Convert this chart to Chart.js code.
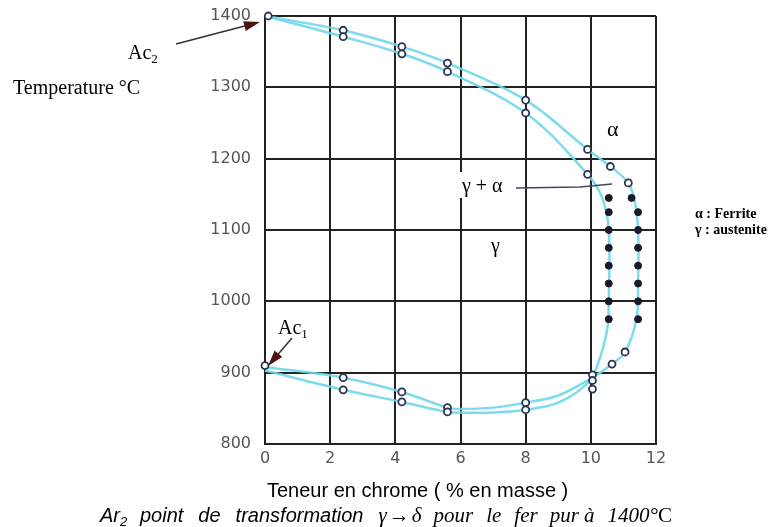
<!DOCTYPE html>
<html>
<head>
<meta charset="utf-8">
<script src="https://cdn.jsdelivr.net/npm/chart.js@4.4.1/dist/chart.umd.min.js"></script>
<style>
  body { margin: 0; background: #fff; }
  canvas { display: block; }
</style>
</head>
<body>
<canvas id="c" width="777" height="527"></canvas>
<script>
// axis ticks
var crTicks = [0, 2, 4, 6, 8, 10, 12];
var tempTicks = [800, 900, 1000, 1100, 1200, 1300, 1400];

// outer loop (heating)
var acCr   = [0, 2.4, 4.2, 5.6, 8, 9.9, 10.6, 11.15, 11.35, 11.45, 11.45, 11.4, 11.05, 10.65, 10.05, 9, 8, 7, 6, 5.6, 4.2, 2.4, 0];
var acTemp = [1400, 1380, 1357, 1334, 1282, 1213, 1189, 1166, 1140, 1100, 1025, 975, 929, 912, 893, 868, 858, 851, 849, 851, 873, 893, 908];

// inner loop (cooling)
var arCr   = [0, 2.4, 4.2, 5.6, 8, 9.9, 10.35, 10.55, 10.55, 10.5, 10.2, 9.9, 9, 8, 7, 6, 5.6, 4.2, 2.4, 0];
var arTemp = [1400, 1371, 1347, 1322, 1264, 1178, 1145, 1100, 1000, 960, 910, 885, 858, 848, 844, 844, 845, 859, 876, 903];

// open circles (measured points)
var openCr   = [0.1, 2.4, 2.4, 4.2, 4.2, 5.6, 5.6, 8, 8, 9.9, 9.9, 10.6, 11.15,
                0, 2.4, 2.4, 4.2, 4.2, 5.6, 5.6, 8, 8, 10.05, 10.05, 10.05, 10.65, 11.05];
var openTemp = [1400, 1380, 1371, 1357, 1347, 1334, 1322, 1282, 1264, 1213, 1178, 1189, 1166,
                910, 893, 876, 873, 859, 851, 845, 858, 848, 897, 889, 877, 912, 929];

// filled points (two columns)
var fullCr   = [10.55, 10.55, 10.55, 10.55, 10.55, 10.55, 10.55, 10.55,
                11.25, 11.45, 11.45, 11.45, 11.45, 11.45, 11.45, 11.45];
var fullTemp = [1145, 1125, 1100, 1075, 1050, 1025, 1000, 975,
                1145, 1125, 1100, 1075, 1050, 1025, 1000, 975];

function pts(xs, ys) {
  var out = [];
  for (var i = 0; i < xs.length; i++) out.push({x: xs[i], y: ys[i]});
  return out;
}

function sub(ctx, base, idx, x, y, size) {
  ctx.font = size + 'px "Liberation Serif"';
  ctx.fillText(base, x, y);
  var w = ctx.measureText(base).width;
  ctx.font = Math.round(size * 0.65) + 'px "Liberation Serif"';
  ctx.fillText(idx, x + w, y + 4);
}

function arrow(ctx, x1, y1, x2, y2) {
  var a = Math.atan2(y2 - y1, x2 - x1);
  ctx.strokeStyle = '#333';
  ctx.lineWidth = 1.5;
  ctx.beginPath();
  ctx.moveTo(x1, y1);
  ctx.lineTo(x2 - 10 * Math.cos(a), y2 - 10 * Math.sin(a));
  ctx.stroke();
  ctx.fillStyle = '#4a1414';
  ctx.beginPath();
  ctx.moveTo(x2, y2);
  ctx.lineTo(x2 - 16 * Math.cos(a) + 5 * Math.sin(a), y2 - 16 * Math.sin(a) - 5 * Math.cos(a));
  ctx.lineTo(x2 - 16 * Math.cos(a) - 5 * Math.sin(a), y2 - 16 * Math.sin(a) + 5 * Math.cos(a));
  ctx.closePath();
  ctx.fill();
}

// labels drawn on top of the chart
var notes = {
  id: 'notes',
  afterDraw: function(chart) {
    var c = chart.ctx;
    c.save();
    c.textAlign = 'left';
    c.textBaseline = 'alphabetic';
    c.fillStyle = '#000';

    sub(c, 'Ac', '2', 128, 59, 20);
    arrow(c, 176, 44, 260, 22);
    c.fillStyle = '#000';
    c.font = '20px "Liberation Serif"';
    c.fillText('Temperature °C', 13, 94);

    sub(c, 'Ac', '1', 278, 334, 20);
    arrow(c, 292, 338, 268, 366);

    c.fillStyle = '#000';
    c.font = '22px "Liberation Serif"';
    c.fillText('α', 607, 136);

    c.fillStyle = '#fff';
    c.fillRect(455, 172, 57, 26);
    c.fillStyle = '#000';
    c.font = '20px "Liberation Serif"';
    c.fillText('γ + α', 462, 192);
    c.strokeStyle = '#4a4060';
    c.lineWidth = 1.5;
    c.beginPath();
    c.moveTo(516, 188);
    c.lineTo(580, 187);
    c.lineTo(612, 184);
    c.stroke();

    c.fillText('γ', 491, 252);

    c.font = 'bold 14px "Liberation Serif"';
    c.fillText('α : Ferrite', 695, 218);
    c.fillText('γ : austenite', 695, 234);

    c.font = '20px "Liberation Sans"';
    c.fillText('Teneur en chrome ( % en masse )', 267, 497);

    // second caption line, word by word
    var x = 100, y = 522;
    c.font = 'italic 20px "Liberation Sans"';
    c.fillText('Ar', x, y);
    x += c.measureText('Ar').width;
    c.font = 'italic 13px "Liberation Sans"';
    c.fillText('2', x, y + 4);
    x += 20;
    var w1 = ['point', 'de', 'transformation'];
    c.font = 'italic 20px "Liberation Sans"';
    for (var i = 0; i < w1.length; i++) {
      c.fillText(w1[i], x, y);
      x += c.measureText(w1[i]).width + 15;
    }
    var w2 = ['γ', '→', 'δ', 'pour', 'le', 'fer', 'pur à', '1400°C'];
    var gap = [2, 2, 12, 13, 13, 12, 13, 0];
    c.font = 'italic 21px "Liberation Serif"';
    for (var j = 0; j < w2.length; j++) {
      if (w2[j] == '1400°C') {
        c.fillText('1400°', x, y);
        var ww = c.measureText('1400°').width;
        c.font = '21px "Liberation Serif"';
        c.fillText('C', x + ww, y);
      } else {
        c.fillText(w2[j], x, y);
        x += c.measureText(w2[j]).width + gap[j];
      }
    }
    c.restore();
  }
};

var ctx = document.getElementById('c').getContext('2d');
var chart = new Chart(ctx, {
  type: 'scatter',
  data: {
    datasets: [{
      label: 'open',
      data: pts(openCr, openTemp),
      pointStyle: 'circle',
      pointRadius: 3.5,
      backgroundColor: '#fff',
      borderColor: '#2a3550',
      borderWidth: 1.8,
      clip: false,
      order: 1
    }, {
      label: 'full',
      data: pts(fullCr, fullTemp),
      pointStyle: 'circle',
      pointRadius: 3.5,
      backgroundColor: '#1a1a2a',
      borderColor: '#1a1a2a',
      borderWidth: 1,
      clip: false,
      order: 1
    }, {
      label: 'Ac',
      data: pts(acCr, acTemp),
      showLine: true,
      tension: 0.35,
      pointRadius: 0,
      borderColor: 'rgba(110, 215, 235, 0.9)',
      borderWidth: 2.5,
      clip: false,
      order: 2
    }, {
      label: 'Ar',
      data: pts(arCr, arTemp),
      showLine: true,
      tension: 0.35,
      pointRadius: 0,
      borderColor: 'rgba(110, 215, 235, 0.9)',
      borderWidth: 2.5,
      clip: false,
      order: 2
    }]
  },
  options: {
    responsive: false,
    animation: false,
    layout: { padding: { left: 200, right: 121, top: 16, bottom: 0 } },
    plugins: {
      legend: { display: false },
      tooltip: { enabled: false }
    },
    scales: {
      x: {
        type: 'linear',
        min: crTicks[0],
        max: crTicks[crTicks.length - 1],
        afterBuildTicks: function(s) { s.ticks = crTicks.map(function(v) { return {value: v}; }); },
        ticks: { padding: 5, color: '#555', font: { family: 'DejaVu Sans', size: 16 },
                 callback: function(v) { return String(v); } },
        grid: { color: '#222', lineWidth: 2, drawTicks: false },
        border: { color: '#222', width: 2 },
        afterFit: function(s) { s.height = 83; s.paddingLeft = 0; s.paddingRight = 0; }
      },
      y: {
        type: 'linear',
        min: tempTicks[0],
        max: tempTicks[tempTicks.length - 1],
        afterBuildTicks: function(s) { s.ticks = tempTicks.map(function(v) { return {value: v}; }); },
        ticks: { padding: 14, color: '#555', font: { family: 'DejaVu Sans', size: 16 },
                 callback: function(v) { return String(v); } },
        grid: { color: '#222', lineWidth: 2, drawTicks: false },
        border: { color: '#222', width: 2 },
        afterFit: function(s) { s.width = 65; s.paddingTop = 0; s.paddingBottom = 0; }
      }
    }
  },
  plugins: [notes]
});
</script>
</body>
</html>
